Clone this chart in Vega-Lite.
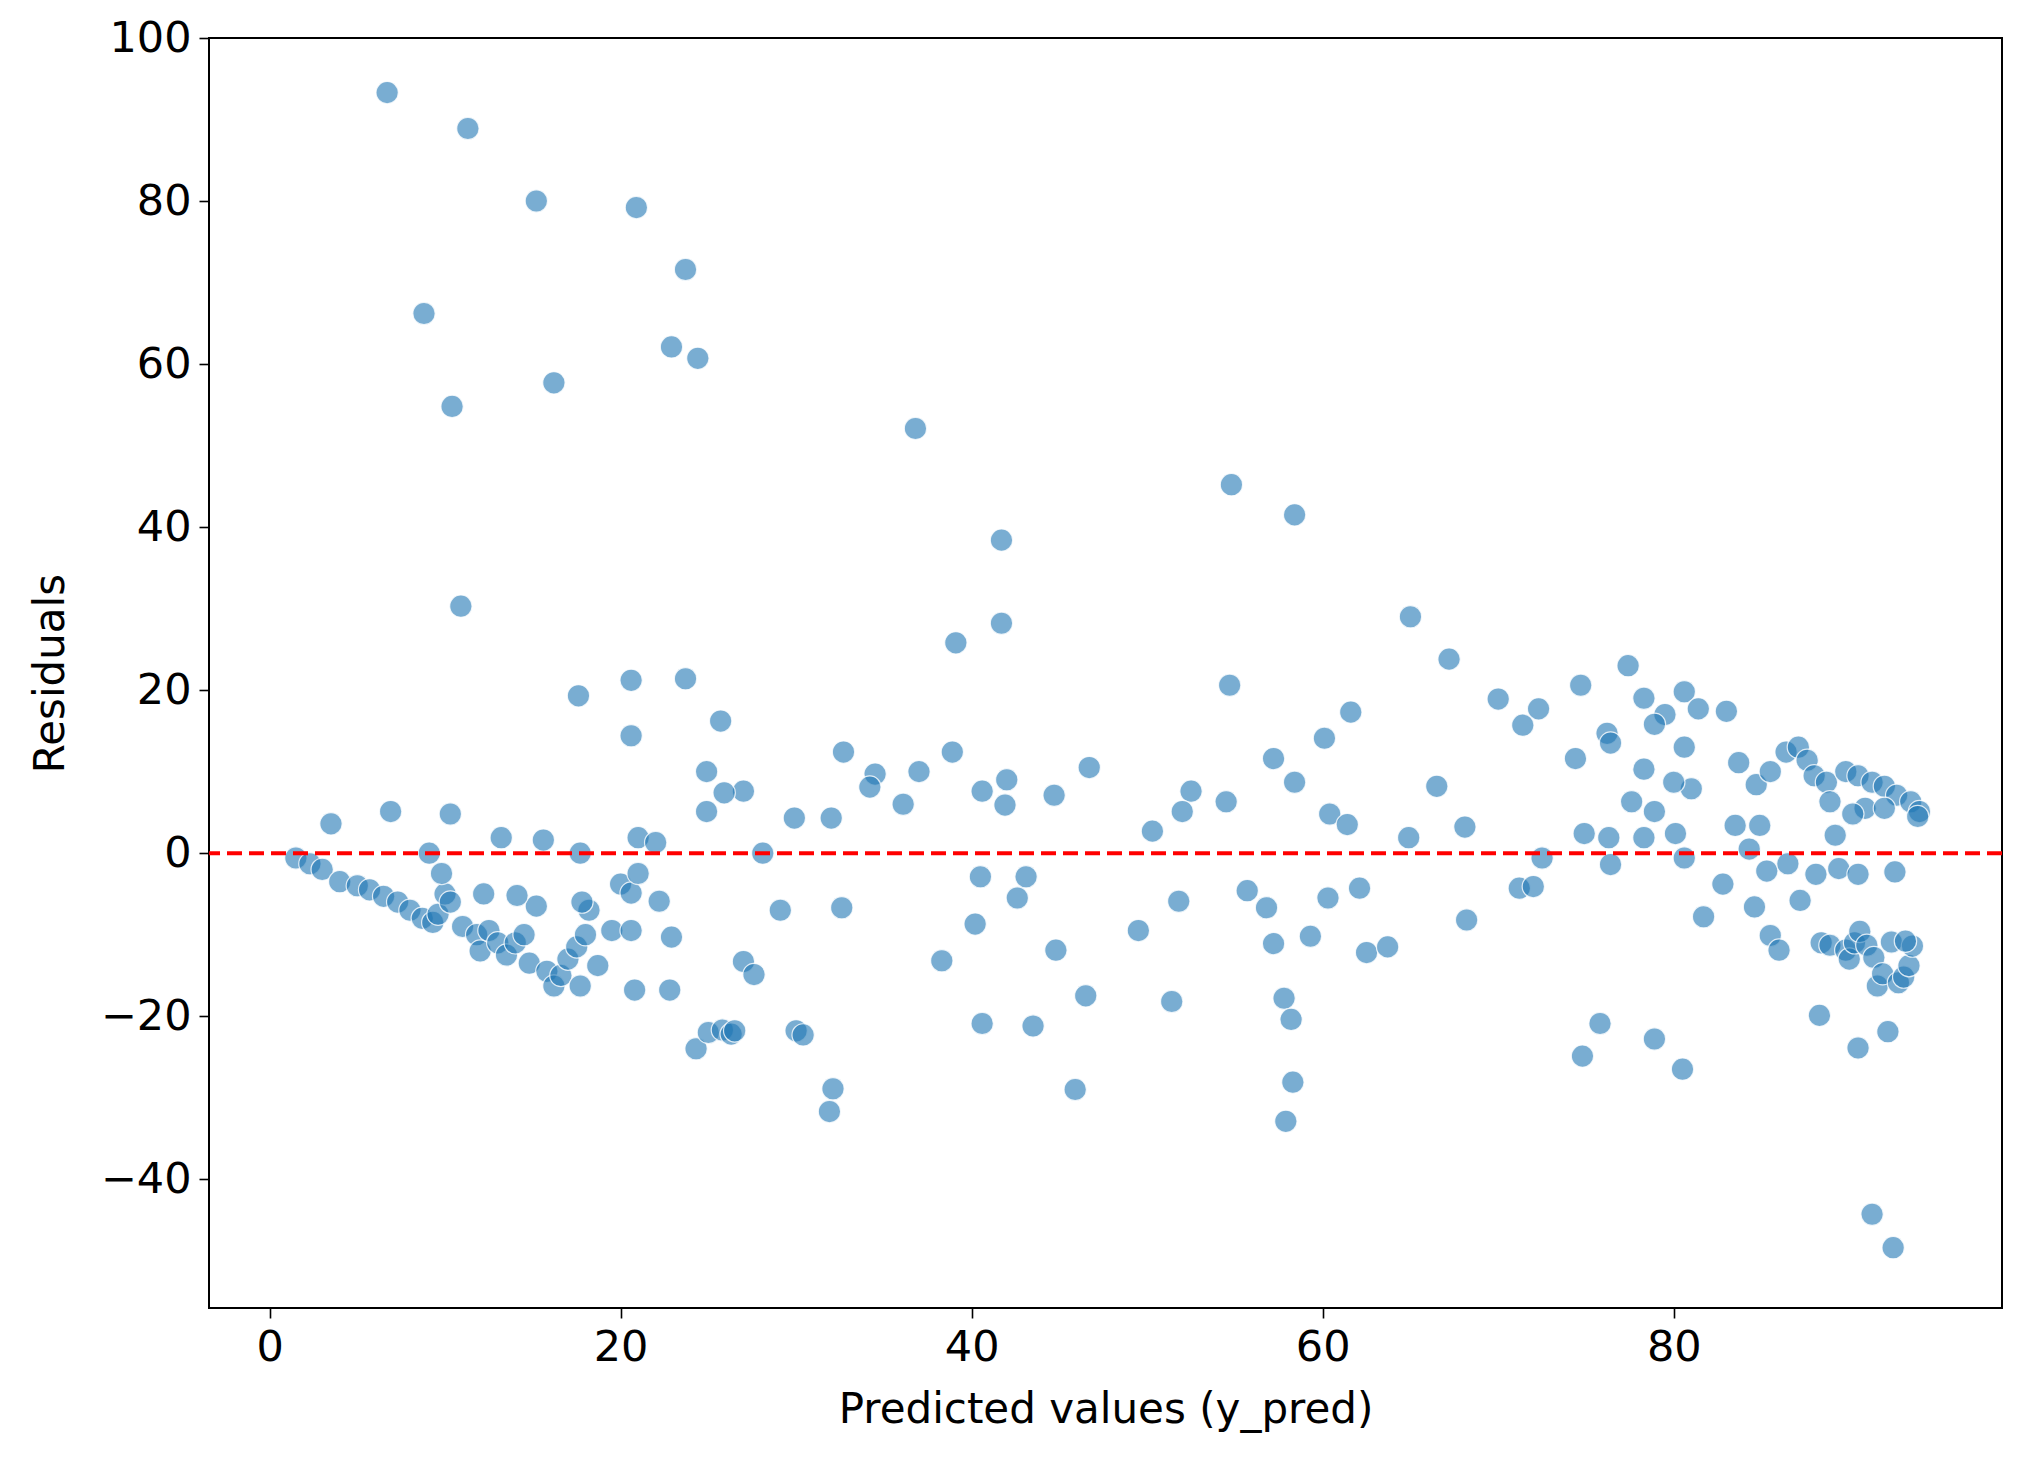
{
  "$schema": "https://vega.github.io/schema/vega-lite/v6.json",
  "autosize": {"type": "none"},
  "width": 1793,
  "height": 1270,
  "padding": {"left": 209, "top": 38, "right": 20, "bottom": 151},
  "background": "white",
  "config": {
    "font": "DejaVu Sans",
    "view": {"stroke": "black", "strokeWidth": 2},
    "axis": {"grid": false, "domain": false, "tickColor": "black", "tickWidth": 1.6, "tickSize": 10, "labelFontSize": 43, "labelColor": "black", "titleFontSize": 42, "titleFontWeight": "normal", "titleColor": "black", "labelPadding": 8},
    "axisX": {"titlePadding": 20},
    "axisY": {"titlePadding": 28}
  },
  "data": {"values": [
    {"x":6.7,"y":93.3},{"x":11.3,"y":88.9},{"x":15.2,"y":80},{"x":20.9,"y":79.2},{"x":23.7,"y":71.6},{"x":8.8,"y":66.2},{"x":22.9,"y":62.1},{"x":24.4,"y":60.7},{"x":16.2,"y":57.7},{"x":10.4,"y":54.8},{"x":36.8,"y":52.1},{"x":54.8,"y":45.2},{"x":58.4,"y":41.5},{"x":41.7,"y":38.4},{"x":10.9,"y":30.3},{"x":41.7,"y":28.2},{"x":39.1,"y":25.8},{"x":65,"y":29},{"x":67.2,"y":23.8},{"x":54.7,"y":20.6},{"x":17.6,"y":19.3},{"x":20.6,"y":21.2},{"x":23.7,"y":21.4},{"x":20.6,"y":14.4},{"x":25.7,"y":16.2},{"x":70,"y":18.9},{"x":72.3,"y":17.7},{"x":71.4,"y":15.7},{"x":74.7,"y":20.6},{"x":77.4,"y":23},{"x":78.3,"y":19},{"x":61.6,"y":17.3},{"x":60.1,"y":14.1},{"x":74.4,"y":11.6},{"x":76.2,"y":14.7},{"x":76.4,"y":13.5},{"x":79.5,"y":17},{"x":78.9,"y":15.8},{"x":80.6,"y":19.8},{"x":81.4,"y":17.7},{"x":83,"y":17.4},{"x":80.6,"y":13},{"x":83.7,"y":11.1},{"x":84.7,"y":8.4},{"x":85.5,"y":10},{"x":86.4,"y":12.4},{"x":87.1,"y":13},{"x":87.6,"y":11.4},{"x":88,"y":9.5},{"x":88.7,"y":8.7},{"x":89.8,"y":10},{"x":90.5,"y":9.5},{"x":91.3,"y":8.7},{"x":92,"y":8.2},{"x":92.7,"y":7.1},{"x":93.5,"y":6.3},{"x":94,"y":5.1},{"x":90.9,"y":5.5},{"x":92,"y":5.5},{"x":90.2,"y":4.8},{"x":88.9,"y":6.3},{"x":81,"y":7.9},{"x":80,"y":8.7},{"x":78.3,"y":10.3},{"x":77.6,"y":6.3},{"x":78.9,"y":5.1},{"x":80.1,"y":2.4},{"x":78.3,"y":1.9},{"x":74.9,"y":2.4},{"x":76.3,"y":1.9},{"x":66.5,"y":8.2},{"x":58.4,"y":8.7},{"x":57.2,"y":11.6},{"x":54.5,"y":6.3},{"x":52.5,"y":7.6},{"x":52,"y":5.1},{"x":50.3,"y":2.7},{"x":60.4,"y":4.8},{"x":61.4,"y":3.5},{"x":64.9,"y":1.9},{"x":68.1,"y":3.2},{"x":46.7,"y":10.5},{"x":44.7,"y":7.1},{"x":42,"y":9},{"x":40.6,"y":7.6},{"x":41.9,"y":5.9},{"x":38.9,"y":12.4},{"x":37,"y":10},{"x":36.1,"y":6},{"x":34.5,"y":9.7},{"x":34.2,"y":8.1},{"x":32.7,"y":12.4},{"x":29.9,"y":4.3},{"x":32,"y":4.3},{"x":27,"y":7.6},{"x":25.9,"y":7.4},{"x":24.9,"y":10},{"x":24.9,"y":5.1},{"x":21,"y":1.9},{"x":22,"y":1.3},{"x":28.1,"y":0},{"x":3.5,"y":3.6},{"x":6.9,"y":5.1},{"x":10.3,"y":4.8},{"x":13.2,"y":1.9},{"x":15.6,"y":1.6},{"x":17.7,"y":0},{"x":9.1,"y":0},
    {"x":1.5,"y":-0.6},{"x":2.3,"y":-1.3},{"x":3,"y":-2},{"x":4,"y":-3.5},{"x":5,"y":-4},{"x":5.7,"y":-4.5},{"x":6.5,"y":-5.3},{"x":7.3,"y":-6},{"x":8,"y":-7},{"x":8.7,"y":-8},{"x":9.3,"y":-8.5},{"x":9.6,"y":-7.5},{"x":10,"y":-5},{"x":10.3,"y":-6},{"x":9.8,"y":-2.5},{"x":11,"y":-9},{"x":11.8,"y":-10},{"x":12,"y":-12},{"x":12.5,"y":-9.5},{"x":13,"y":-11},{"x":13.5,"y":-12.5},{"x":14,"y":-11},{"x":14.5,"y":-10},{"x":14.8,"y":-13.5},{"x":15.2,"y":-6.5},{"x":14.1,"y":-5.2},{"x":12.2,"y":-5},{"x":15.8,"y":-14.5},{"x":16.2,"y":-16.3},{"x":16.6,"y":-15},{"x":17,"y":-13},{"x":17.5,"y":-11.5},{"x":18,"y":-10},{"x":18.2,"y":-7},{"x":17.8,"y":-6},{"x":17.7,"y":-16.3},{"x":18.7,"y":-13.8},{"x":19.5,"y":-9.5},{"x":20,"y":-3.8},{"x":20.6,"y":-4.9},{"x":21,"y":-2.5},{"x":20.6,"y":-9.5},{"x":20.8,"y":-16.8},{"x":22.2,"y":-5.9},{"x":22.9,"y":-10.3},{"x":22.8,"y":-16.8},{"x":24.3,"y":-24},{"x":25,"y":-22},{"x":25.8,"y":-21.7},{"x":26.3,"y":-22.2},{"x":26.5,"y":-21.8},{"x":27,"y":-13.3},{"x":27.6,"y":-14.9},{"x":29.1,"y":-7},{"x":30,"y":-21.8},{"x":30.4,"y":-22.3},{"x":32.1,"y":-28.9},{"x":31.9,"y":-31.7},{"x":32.6,"y":-6.7},{"x":38.3,"y":-13.2},{"x":40.2,"y":-8.7},{"x":40.5,"y":-2.9},{"x":40.6,"y":-20.9},{"x":42.6,"y":-5.5},{"x":43.1,"y":-2.9},{"x":43.5,"y":-21.2},{"x":44.8,"y":-11.9},{"x":45.9,"y":-29},{"x":46.5,"y":-17.5},{"x":49.5,"y":-9.5},{"x":51.4,"y":-18.2},{"x":51.8,"y":-5.9},{"x":55.7,"y":-4.6},{"x":56.8,"y":-6.7},{"x":57.2,"y":-11.1},{"x":57.8,"y":-17.8},{"x":58.2,"y":-20.4},{"x":58.3,"y":-28.1},{"x":57.9,"y":-32.9},{"x":59.3,"y":-10.2},{"x":60.3,"y":-5.5},{"x":62.1,"y":-4.3},{"x":62.5,"y":-12.2},{"x":63.7,"y":-11.5},{"x":68.2,"y":-8.2},{"x":71.2,"y":-4.3},{"x":72,"y":-4.1},{"x":72.5,"y":-0.6},{"x":74.8,"y":-24.9},{"x":75.8,"y":-20.9},{"x":76.4,"y":-1.4},{"x":78.9,"y":-22.8},{"x":80.5,"y":-26.5},{"x":80.6,"y":-0.6},{"x":81.7,"y":-7.8},{"x":82.8,"y":-3.8},{"x":83.5,"y":3.4},{"x":84.3,"y":0.5},{"x":84.6,"y":-6.6},{"x":84.9,"y":3.4},{"x":85.3,"y":-2.2},{"x":85.5,"y":-10.1},{"x":86,"y":-11.9},{"x":86.5,"y":-1.3},{"x":87.2,"y":-5.8},{"x":88.1,"y":-2.6},{"x":88.4,"y":-11},{"x":88.3,"y":-19.9},{"x":88.9,"y":-11.3},{"x":89.2,"y":2.2},{"x":89.4,"y":-1.9},{"x":89.8,"y":-11.9},{"x":90,"y":-13},{"x":90.3,"y":-11},{"x":90.6,"y":-9.6},{"x":90.5,"y":-2.6},{"x":90.5,"y":-23.9},{"x":91,"y":-11.3},{"x":91.4,"y":-12.8},{"x":91.3,"y":-44.3},{"x":91.6,"y":-16.3},{"x":91.9,"y":-14.8},{"x":92.2,"y":-21.9},{"x":92.4,"y":-10.9},{"x":92.5,"y":-48.4},{"x":92.6,"y":-2.3},{"x":92.8,"y":-15.9},{"x":93.1,"y":-15.2},{"x":93.4,"y":-13.8},{"x":93.6,"y":-11.4},{"x":93.2,"y":-10.8},{"x":93.9,"y":4.5}
  ]},
  "layer": [
    {
      "mark": {"type": "point", "filled": true, "shape": "circle", "size": 500, "color": "#1f77b4", "fillOpacity": 0.6, "stroke": "white", "strokeWidth": 1.2, "strokeOpacity": 0.8},
      "encoding": {
        "x": {"field": "x", "type": "quantitative", "title": "Predicted values (y_pred)", "scale": {"domain": [-3.45, 98.7], "nice": false, "zero": false}, "axis": {"values": [0, 20, 40, 60, 80]}},
        "y": {"field": "y", "type": "quantitative", "title": "Residuals", "scale": {"domain": [-55.8, 100], "nice": false, "zero": false}, "axis": {"values": [-40, -20, 0, 20, 40, 60, 80, 100]}}
      }
    },
    {
      "data": {"values": [{"y": 0}]},
      "mark": {"type": "rule", "color": "red", "strokeWidth": 4, "strokeDash": [15, 7]},
      "encoding": {"y": {"field": "y", "type": "quantitative"}}
    }
  ]
}
